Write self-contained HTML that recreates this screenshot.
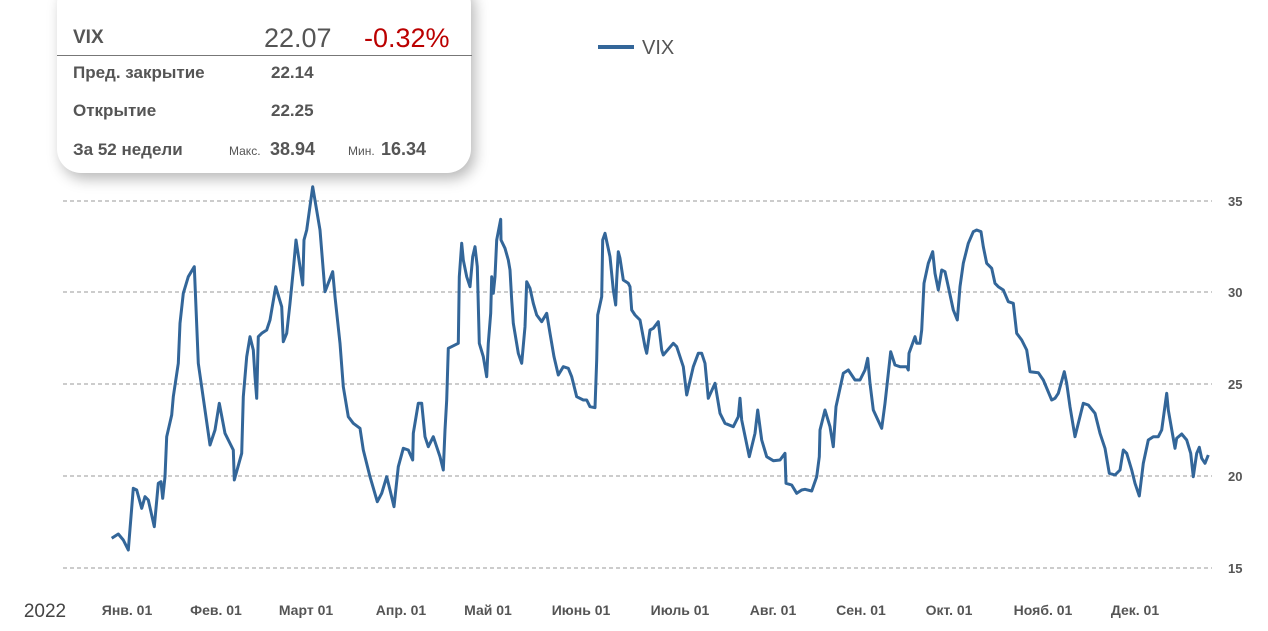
<!DOCTYPE html>
<html><head><meta charset="utf-8"><style>
body{margin:0;width:1268px;height:631px;background:#fff;overflow:hidden;position:relative;font-family:"Liberation Sans","DejaVu Sans",sans-serif;}
.card{position:absolute;left:57px;top:-20px;width:414px;height:193px;background:#fff;border-radius:24px;box-shadow:4px 6px 14px rgba(0,0,0,0.28);}
.t{position:absolute;color:#555;font-weight:bold;white-space:nowrap;}
</style></head><body>
<svg width="1268" height="631" style="position:absolute;left:0;top:0">
<g stroke="#999" stroke-dasharray="4,3" stroke-width="1">
<line x1="63" y1="201" x2="1212" y2="201"/><line x1="63" y1="292" x2="1212" y2="292"/><line x1="63" y1="384" x2="1212" y2="384"/><line x1="63" y1="476" x2="1212" y2="476"/><line x1="63" y1="568" x2="1212" y2="568"/>
</g>
<g font-size="13" fill="#555" font-weight="bold" font-family="Liberation Sans,sans-serif">
<text x="1228" y="206">35</text><text x="1228" y="297">30</text><text x="1228" y="389">25</text><text x="1228" y="481">20</text><text x="1228" y="573">15</text>
</g>
<g font-size="14" fill="#555" font-weight="bold" font-family="Liberation Sans,sans-serif" text-anchor="middle">
<text x="127" y="615">Янв. 01</text><text x="216" y="615">Фев. 01</text><text x="306" y="615">Март 01</text><text x="401" y="615">Апр. 01</text><text x="488" y="615">Май 01</text><text x="581" y="615">Июнь 01</text><text x="680" y="615">Июль 01</text><text x="773" y="615">Авг. 01</text><text x="861" y="615">Сен. 01</text><text x="949" y="615">Окт. 01</text><text x="1043" y="615">Нояб. 01</text><text x="1135" y="615">Дек. 01</text>
<text x="45" y="617" font-size="19" font-weight="normal" fill="#444">2022</text>
</g>
<line x1="598" y1="47" x2="634" y2="47" stroke="#336699" stroke-width="4"/>
<text x="642" y="54" font-size="20" fill="#555" font-family="Liberation Sans,sans-serif">VIX</text>
<polyline fill="none" stroke="#336699" stroke-width="3" stroke-linejoin="round" points="111.7,538.3 118.3,534 123.3,540 128.3,550 133.3,488.3 136.7,490 141.7,508.3 145,496.7 148.3,500 154.3,526.7 158.3,483.3 161,481.7 162.7,498.3 165,476.7 166.7,436.7 171.7,415 173.3,396.7 178.3,363.3 180,323.3 183.3,293.3 188.3,276.7 194.3,266.7 198.3,363.3 210,445 215,430 219.3,403.3 225,433.3 233.3,450 234.3,480 241.7,453.3 243.3,396.7 246.7,356.7 250,336.7 253.3,350 255,376.7 256.7,398.3 258.3,336.7 261.7,333.3 266.7,330 270,320 275.7,286.7 281.7,306.7 283.3,341.7 286.7,333.3 290,303.3 293.3,270 296,240 300,266.7 302.7,285 304,240 306.7,230 312.7,186.7 320,230 325,291.7 332.7,271.7 335,296.7 340,343.3 343.3,386.7 348.3,416.7 353.3,423.3 360,428.3 363.3,450 370,476.7 377.3,501.7 381.7,493.3 386.7,476.7 390,490 394,506.7 398.3,466.7 403.3,448.3 408.3,450 412.7,460 413.3,433.3 418.3,403.3 421.7,403.3 425,436.7 428.3,446.7 433.3,436.7 440,456.7 443.3,470 445,430 446.7,400 448.3,348.3 458.3,343.3 459.3,276.7 461.7,243.3 463.3,260 466.7,276.7 470,286.7 472.7,256.7 475,246.7 477.3,266.7 479.3,343.3 483.3,356.7 486.7,376.7 488.3,343.3 490.7,313.3 491.7,276.7 493.3,293.3 495,276.7 496.7,240 498.3,231.7 500.7,219.3 501,240 505,248.3 508.3,260 510,270 511.7,300 513.3,323.3 518.3,353.3 521.7,363.3 525,326.7 526.7,281.7 530,288.3 533.3,303.3 536.7,315 541.7,321.7 546.7,313.3 550,333.3 554,356.7 558.3,375 563.3,366.7 568.3,368.3 571.7,376.7 576.7,396.7 583.3,400 586.7,400 590,406.7 595,407.7 596.7,360 597.7,315 601.7,296.7 602.7,240 605,233.3 610,256.7 613.3,290 615.7,305 616.7,280 618.3,251.7 620,258.3 623.3,280 628.3,283.3 630,286.7 631.7,310 635,315 640,320 645,346.7 646.7,353.3 650,330 653.3,328.3 658.3,321.7 661.7,350 663.3,355 673.3,343.3 676.7,346.7 683.3,366.7 686.7,395 693.3,366.7 698.3,353.3 701.7,353.3 705,363.3 708.3,398.3 715,383.3 720,413.3 725,423.3 733.3,426.7 738.3,416.7 740,398.3 741.7,420 749.3,456.7 755,433.3 757.7,410 761.7,440 766.7,456.7 773.3,460.7 780,460 785,453.3 786,483.3 791.7,485 796.7,493.3 801.7,490 805,489.3 811.7,491 816.7,476.7 819.3,456.7 820,430 825,410 830,426.7 833.3,446.7 836,406.7 843.3,373.3 848.3,370 855,380 860,380 865,370 867.7,358.3 870,383.3 873.3,410 881.7,428.3 885,403.3 890.7,351.7 895,365 900,366.7 906.7,366.7 908.3,370 909,353.3 915,336.7 916.7,343.3 920,343.3 921.7,330 924,283.3 928.3,263.3 932.7,251.7 935,273.3 938.3,290 941.7,270 945,271.7 948.3,286.7 953.3,310 957.3,320 960,286.7 963.3,263.3 968.3,243.3 973.3,231.7 976.7,230 981,231.7 983.3,246.7 986.7,263.3 991.7,268.3 995,283.3 998.3,286.7 1003.3,290 1008.3,301.7 1013.3,303.3 1016.7,333.3 1021.7,340 1026.7,350 1030,371.7 1038.3,372.7 1043.3,380 1051.7,400 1055,398.3 1058.3,393.3 1064.3,371.7 1066.7,383.3 1070,406.7 1075,436.7 1078.3,423.3 1083.3,403.3 1088.3,405 1095,413.3 1100,433.3 1105,448.3 1109.3,473.3 1115,475 1120,470 1123.3,450 1126.7,453.3 1131.7,470 1135,483.3 1139.3,496 1143.3,463.3 1148.3,440 1153.3,436.7 1158.3,436.7 1161.7,430 1166.7,393.3 1168.3,410 1175,448.3 1176.7,438.3 1181.7,434 1186.7,440 1190.7,453.3 1193.3,476.7 1196.7,453.3 1199.3,447.3 1201.7,458.3 1205,463.3 1208.3,455"/>
</svg>
<div class="card"></div>
<div style="position:absolute;left:57px;top:55px;width:415px;height:1px;background:#777"></div>
<div class="t" style="left:73px;top:27px;font-size:19px;color:#555">VIX</div>
<div class="t" style="left:264px;top:23px;font-size:27px;font-weight:500;color:#555">22.07</div>
<div class="t" style="left:364px;top:23px;font-size:27px;font-weight:500;color:#b00">-0.32%</div>
<div class="t" style="left:73px;top:63px;font-size:17px">Пред. закрытие</div>
<div class="t" style="left:271px;top:63px;font-size:17px">22.14</div>
<div class="t" style="left:73px;top:101px;font-size:17px">Открытие</div>
<div class="t" style="left:271px;top:101px;font-size:17px">22.25</div>
<div class="t" style="left:73px;top:140px;font-size:17px">За 52 недели</div>
<div class="t" style="left:229px;top:144px;font-size:12px;font-weight:normal">Макс.</div>
<div class="t" style="left:270px;top:139px;font-size:18px">38.94</div>
<div class="t" style="left:348px;top:144px;font-size:12px;font-weight:normal">Мин.</div>
<div class="t" style="left:381px;top:139px;font-size:18px">16.34</div>
</body></html>
